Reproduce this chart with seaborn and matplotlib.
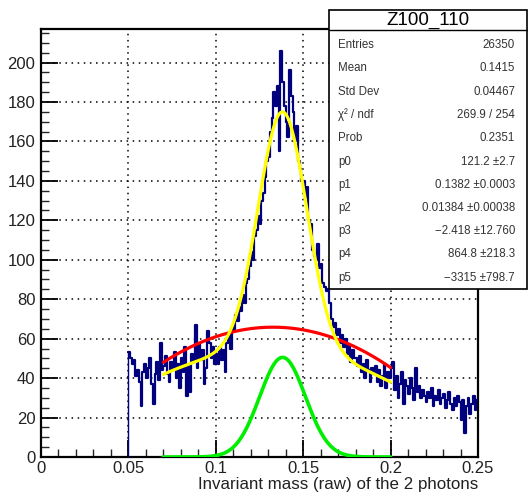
import numpy as np
import pandas as pd
import seaborn as sns
import matplotlib.pyplot as plt
from matplotlib.patches import Rectangle
from matplotlib.ticker import MultipleLocator

sns.set_theme(style="white")
plt.rcParams['font.family'] = ['Liberation Sans', 'DejaVu Sans']

# ---------------- data ----------------
bin_start = 0.05
bin_width = 0.001
counts = [
    53, 50, 47, 49, 41, 44, 38, 26, 43, 47,
    40, 45, 50, 37, 27, 42, 48, 39, 58, 44,
    46, 51, 42, 38, 48, 44, 53, 40, 47, 35,
    50, 43, 56, 31, 46, 33, 52, 48, 67, 45,
    58, 49, 54, 37, 45, 64, 58, 50, 56, 47,
    52, 47, 56, 49, 54, 43, 58, 62, 55, 66,
    64, 72, 69, 76, 74, 82, 78, 88, 90, 97,
    104, 100, 112, 115, 122, 118, 130, 134, 142, 150,
    152, 165, 172, 185, 178, 188, 155, 206, 190, 178,
    170, 162, 196, 183, 175, 160, 168, 150, 146, 140,
    140, 132, 137, 120, 118, 105, 102, 100, 108, 96,
    98, 88, 86, 84, 85, 78, 70, 66, 68, 62,
    65, 58, 62, 56, 60, 52, 57, 48, 54, 50,
    50, 46, 51, 43, 47, 40, 49, 44, 38, 45,
    42, 46, 38, 44, 36, 41, 47, 35, 43, 40,
    45, 48, 34, 41, 30, 37, 43, 27, 39, 36,
    32, 40, 35, 29, 45, 33, 36, 30, 34, 31,
    28, 33, 30, 35, 26, 31, 29, 34, 27, 30,
    32, 25, 29, 33, 27, 24, 30, 26, 31, 28,
    19, 29, 12, 26, 30, 22, 27, 31, 24, 29,
]

# fit function parameters (gaus + pol2), from the stats box
fit_params = [121.2, 0.1382, 0.01384, -2.418, 864.8, -3315.0]
fit_range = [0.07, 0.2]
# red curve: quadratic background (c0 + c1 x + c2 x^2)
red_coefs = [-13.9, 1201.5, -4527.0]
# green curve: gaussian (amplitude, mean, sigma)
green_params = [50.5, 0.1382, 0.0131]

stat_title = "Z100_110"
stat_labels = ["Entries", "Mean", "Std Dev", "χ² / ndf", "Prob",
               "p0", "p1", "p2", "p3", "p4", "p5"]
stat_values = ["26350", "0.1415", "0.04467", "269.9 / 254", "0.2351",
               "121.2 ±2.7", "0.1382 ±0.0003", "0.01384 ±0.00038",
               "−2.418 ±12.760", "864.8 ±218.3", "−3315 ±798.7"]

x_ticks = [0, 0.05, 0.1, 0.15, 0.2, 0.25]
x_tick_labels = ["0", "0.05", "0.1", "0.15", "0.2", "0.25"]
y_ticks = [0, 20, 40, 60, 80, 100, 120, 140, 160, 180, 200]
x_label = "Invariant mass (raw) of the 2 photons"

# ---------------- figure ----------------
W, H = 528, 495
fig = plt.figure(figsize=(W / 100, H / 100), dpi=100)
fig.patch.set_facecolor("white")
ax = fig.add_axes([41 / W, 1 - 457 / H, 437 / W, 428 / H])
ax.set_facecolor("white")

edges = [bin_start + bin_width * i for i in range(len(counts) + 1)]
centers = [bin_start + bin_width * (i + 0.5) for i in range(len(counts))]
df = pd.DataFrame({"x": centers, "w": counts})
hist_color = "#00007f"
sns.histplot(data=df, x="x", weights="w", bins=edges, element="step",
             fill=False, color=hist_color, linewidth=1.6, ax=ax, zorder=3)
# left edge of the histogram drops to zero
ax.plot([edges[0], edges[0]], [0, counts[0]], color=hist_color, linewidth=1.0, zorder=3)

xs = np.linspace(fit_range[0], fit_range[1], 400)
p = fit_params
yellow = p[0] * np.exp(-0.5 * ((xs - p[1]) / p[2]) ** 2) + p[3] + p[4] * xs + p[5] * xs ** 2
red = red_coefs[0] + red_coefs[1] * xs + red_coefs[2] * xs ** 2
green = green_params[0] * np.exp(-0.5 * ((xs - green_params[1]) / green_params[2]) ** 2)

sns.lineplot(x=xs, y=red, color="#ff0000", linewidth=2.3, ax=ax, zorder=4)
sns.lineplot(x=xs, y=yellow, color="#ffff00", linewidth=2.3, ax=ax, zorder=5)
sns.lineplot(x=xs, y=green, color="#00ee00", linewidth=2.6, ax=ax, zorder=4)

ax.set_xlim(0, 0.25)
ax.set_ylim(0, 217)
ax.set_xticks(x_ticks)
ax.set_xticklabels(x_tick_labels)
ax.set_yticks(y_ticks)
ax.set_yticklabels([str(v) for v in y_ticks])
ax.xaxis.set_minor_locator(MultipleLocator(0.01))
ax.yaxis.set_minor_locator(MultipleLocator(5))
ax.tick_params(which="major", direction="in", length=12, width=1.3,
               top=False, right=False, bottom=True, left=True,
               labelsize=12, colors="black", pad=4)
ax.tick_params(which="minor", direction="in", length=6, width=1.0,
               top=False, right=False, bottom=True, left=True)
ax.tick_params(axis="x", pad=3)
ax.tick_params(axis="y", pad=4)
for lab in ax.get_xticklabels() + ax.get_yticklabels():
    lab.set_color("#222222")
ax.grid(True, which="major", linestyle=(0, (1, 3)), color="black", linewidth=1.1)
ax.set_axisbelow(True)
for s in ax.spines.values():
    s.set_visible(True)
    s.set_color("black")
    s.set_linewidth(1.6)
ax.set_xlabel("")
ax.set_ylabel("")

fig.text(478 / W, 1 - 485 / H, x_label, ha="right", va="center",
         fontsize=12.2, color="#222222")

# ---------------- stats box ----------------
bx0, bx1, by0, by1, hy = 329, 527, 10, 289, 30
fig.patches.append(Rectangle((bx0 / W, 1 - by1 / H), (bx1 - bx0) / W, (by1 - by0) / H,
                             transform=fig.transFigure, facecolor="white",
                             edgecolor="black", linewidth=1.2, zorder=10))
fig.add_artist(plt.Line2D([bx0 / W, bx1 / W], [1 - hy / H, 1 - hy / H],
                          transform=fig.transFigure, color="black", linewidth=1.0, zorder=11))
fig.text((bx0 + bx1) / 2 / W, 1 - 20.5 / H, stat_title, ha="center", va="center",
         fontsize=13.5, color="black", zorder=12)
row_y = [45, 68, 92, 115, 138, 162, 185, 208, 231, 254, 278]
for lab, val, yy in zip(stat_labels, stat_values, row_y):
    fig.text(338 / W, 1 - yy / H, lab, ha="left", va="center", fontsize=8.3,
             color="#333333", zorder=12)
    fig.text(515 / W, 1 - yy / H, val, ha="right", va="center", fontsize=8.3,
             color="#333333", zorder=12)

fig.savefig("out.png", dpi=100)
